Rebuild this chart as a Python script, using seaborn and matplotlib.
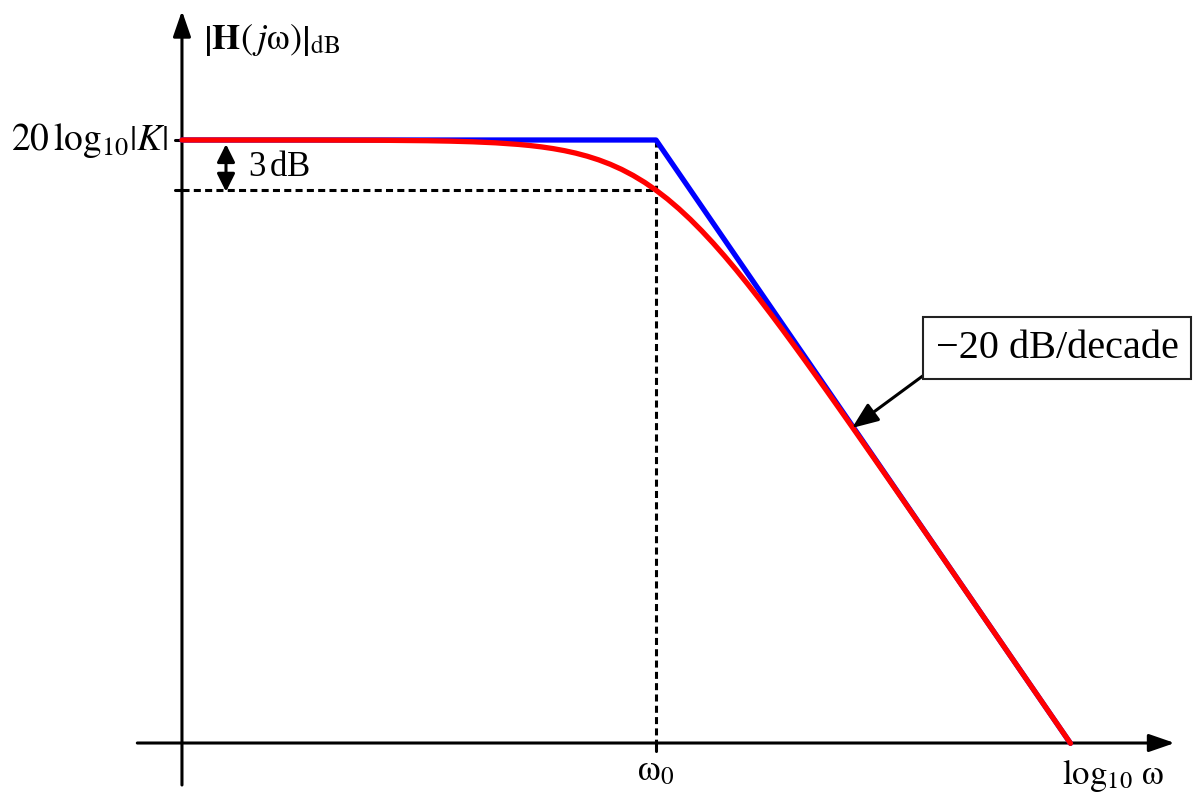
import numpy as np
import pandas as pd
import matplotlib
matplotlib.use("Agg")
import matplotlib.pyplot as plt
import seaborn as sns

# ---- data (x in decades relative to w0, y in dB relative to 20log10|K|) ----
log_w = [-2.07, -1.5, -1.2, -1.0, -0.9, -0.8, -0.7, -0.6, -0.55, -0.5, -0.45, -0.4,
         -0.35, -0.3, -0.25, -0.2, -0.15, -0.1, -0.05, 0.0, 0.05, 0.1, 0.15, 0.2,
         0.25, 0.3, 0.35, 0.4, 0.45, 0.5, 0.55, 0.6, 0.65, 0.7, 0.75, 0.8, 0.85,
         0.9, 0.95, 1.0, 1.1, 1.2, 1.3, 1.5, 1.81]
mag_db = [0.0, -0.004, -0.017, -0.043, -0.068, -0.108, -0.170, -0.266, -0.332, -0.414,
          -0.515, -0.639, -0.790, -0.973, -1.193, -1.455, -1.764, -2.125, -2.539,
          -3.010, -3.539, -4.125, -4.764, -5.456, -6.193, -6.973, -7.790, -8.639,
          -9.515, -10.414, -11.332, -12.266, -13.212, -14.170, -15.135, -16.108,
          -17.086, -18.069, -19.054, -20.043, -22.027, -24.017, -26.011, -30.004, -36.20]
asym_log_w = [-2.07, 0.0, 1.81]
asym_db = [0.0, 0.0, -36.2]
cutoff_db = -3.0
corner_log_w = 0.0

sns.set_theme(style="white")
plt.rcParams['font.family'] = ['Liberation Serif', 'DejaVu Serif']
plt.rcParams['mathtext.fontset'] = 'stix'
plt.rcParams['text.color'] = 'black'

fig = plt.figure(figsize=(11.95, 7.96), dpi=100)
ax = fig.add_axes([0, 0, 1, 1])
XL = ((0 - 656) / 229, (1195 - 656) / 229)
YL = ((140 - 796) / 16.667, (140 - 0) / 16.667)

y_axis_x = -2.07
x_axis_y = -36.18

# axes arrows
ax.annotate('', xy=(y_axis_x, 7.75), xytext=(y_axis_x, -38.7),
            arrowprops=dict(arrowstyle='-|>,head_length=1.3,head_width=0.45', color='black', lw=2.2,
                            shrinkA=0, shrinkB=0))
ax.annotate('', xy=(2.265, x_axis_y), xytext=(-2.265, x_axis_y),
            arrowprops=dict(arrowstyle='-|>,head_length=1.3,head_width=0.45', color='black', lw=2.2,
                            shrinkA=0, shrinkB=0))

# dashed guides
ax.plot([y_axis_x, corner_log_w], [cutoff_db, cutoff_db], color='black', lw=2.2,
        ls=(0, (2.3, 1.4)), zorder=2)
ax.plot([corner_log_w, corner_log_w], [0, x_axis_y], color='black', lw=2.2,
        ls=(0, (2.3, 1.4)), zorder=2)

# small ticks
ax.plot([y_axis_x - 0.03, y_axis_x], [0, 0], color='black', lw=2.2, zorder=2)
ax.plot([y_axis_x - 0.03, y_axis_x], [cutoff_db, cutoff_db], color='black', lw=2.2, zorder=2)
ax.plot([corner_log_w, corner_log_w], [x_axis_y, x_axis_y - 0.5], color='black', lw=2.2, zorder=2)

# curves
df_a = pd.DataFrame({'x': asym_log_w, 'y': asym_db})
df_r = pd.DataFrame({'x': log_w, 'y': mag_db})
sns.lineplot(data=df_a, x='x', y='y', ax=ax, color='#0000ff', lw=3.8, sort=False,
             estimator=None, zorder=3)
sns.lineplot(data=df_r, x='x', y='y', ax=ax, color='#ff0000', lw=3.8, sort=False,
             estimator=None, zorder=4)
ax.set_xlabel('')
ax.set_ylabel('')
ax.set_xlim(*XL)
ax.set_ylim(*YL)
ax.axis('off')

# 3 dB double arrow
x3 = (226 - 656) / 229
ax.annotate('', xy=(x3, 0.0 - 0.25), xytext=(x3, cutoff_db - 0.1),
            arrowprops=dict(arrowstyle='<|-|>,head_length=0.9,head_width=0.45', color='black', lw=2.2,
                            shrinkA=0, shrinkB=0))
ax.text((248 - 656) / 229, (140 - 168) / 16.667, r'3$\,$dB', fontsize=25, ha='left', va='center')

# labels
ax.text((203 - 656) / 229, (140 - 40) / 16.667,
        r'$\left|\mathbf{H}(\,j\mathrm{\omega})\right|_{\mathrm{dB}}$', fontsize=26,
        ha='left', va='center')
ax.text((168 - 656) / 229, (140 - 141) / 16.667, r'$20\,\log_{10}\!\left|K\right|$',
        fontsize=27, ha='right', va='center')
ax.text(corner_log_w, (140 - 772) / 16.667, r'$\mathrm{\omega}_0$', fontsize=26,
        ha='center', va='center')
ax.text((1062 - 656) / 229, (140 - 775) / 16.667, r'$\log_{10}\,\mathrm{\omega}$', fontsize=25,
        ha='left', va='center')

# slope annotation
ax.annotate('\u221220 dB/decade', xy=((852 - 656) / 229, (140 - 428) / 16.667),
            xytext=((1057 - 656) / 229, (140 - 348) / 16.667),
            fontsize=29, ha='center', va='center',
            bbox=dict(boxstyle='square,pad=0.3', fc='white', ec='#222222', lw=1.5),
            arrowprops=dict(arrowstyle='-|>,head_length=0.55,head_width=0.22', color='black',
                            lw=2.2, relpos=(0, 0), shrinkA=0, shrinkB=0),
            zorder=6)

fig.savefig('out.png', dpi=100)
